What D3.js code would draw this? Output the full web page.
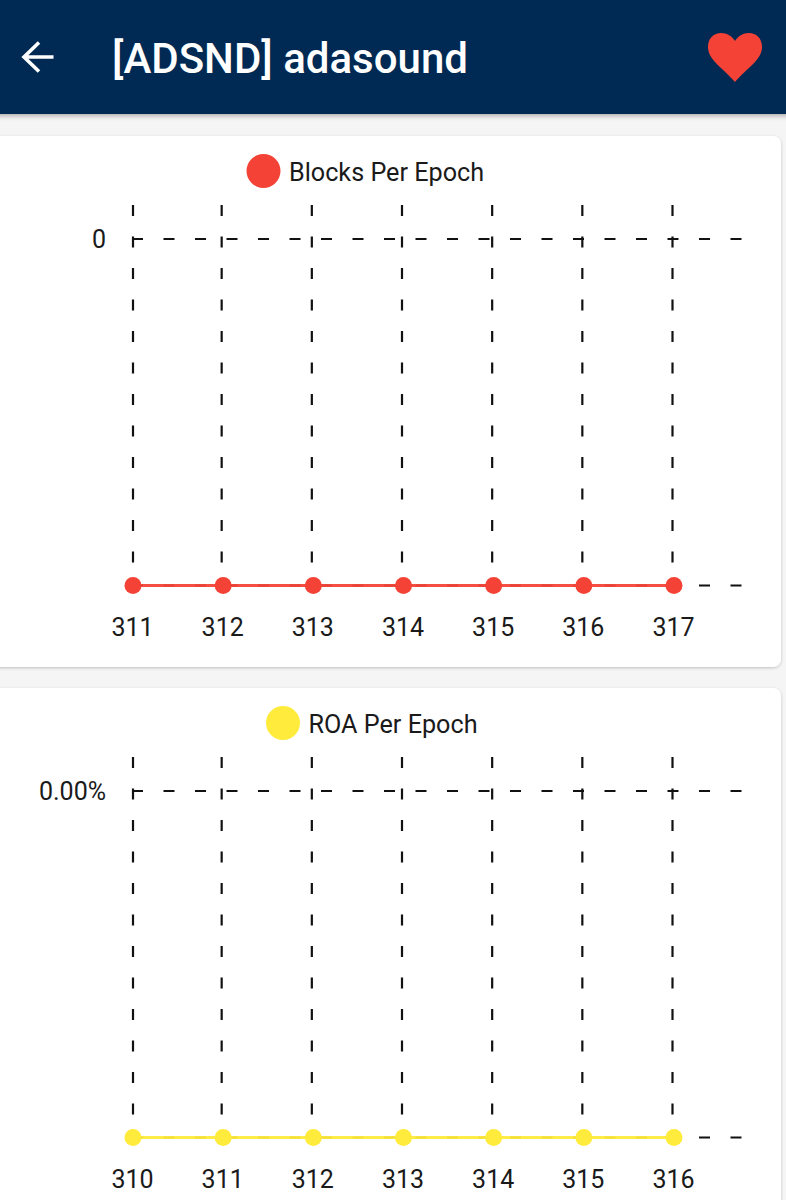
<!DOCTYPE html>
<html>
<head>
<meta charset="utf-8">
<script src="https://cdn.jsdelivr.net/npm/d3@7"></script>
<style>
  html, body { margin: 0; padding: 0; background: #f5f5f5; }
  svg { display: block; font-family: Roboto, sans-serif; }
  .grid { stroke: #111; stroke-width: 2.2; stroke-dasharray: 11 20.5; fill: none; }
  .axis text { font-size: 25px; fill: #1a1a1a; font-family: Roboto, sans-serif; }
  .legend { font-size: 25.2px; fill: #1a1a1a; }
</style>
</head>
<body>
<div id="chart"></div>
<script>
// values
let blockEpochs = [311, 312, 313, 314, 315, 316, 317]
let blockValues = [0, 0, 0, 0, 0, 0, 0]
let blockYLabels = ['0']

let roaEpochs = [310, 311, 312, 313, 314, 315, 316]
let roaValues = [0, 0, 0, 0, 0, 0, 0]
let roaYLabels = ['0.00%']

let svg = d3.select('#chart')
  .append('svg')
  .attr('width', 786)
  .attr('height', 1200)

let defs = svg.append('defs')
let headerShadow = defs.append('filter').attr('id', 'headerShadow')
  .attr('x', '-5%').attr('y', '-10%').attr('width', '110%').attr('height', '130%')
headerShadow.append('feDropShadow')
  .attr('dx', 0).attr('dy', 2).attr('stdDeviation', 2.5)
  .attr('flood-color', '#000').attr('flood-opacity', 0.3)
let cardShadow = defs.append('filter').attr('id', 'cardShadow')
  .attr('x', '-5%').attr('y', '-5%').attr('width', '110%').attr('height', '110%')
cardShadow.append('feDropShadow')
  .attr('dx', 0).attr('dy', 1).attr('stdDeviation', 1.5)
  .attr('flood-color', '#000').attr('flood-opacity', 0.22)

function drawPanel(top, cardHeight, title, color, legendX, epochs, values, yLabels) {
  // card
  svg.append('rect')
    .attr('x', -10)
    .attr('y', top + 136)
    .attr('width', 791)
    .attr('height', cardHeight)
    .attr('rx', 8)
    .attr('fill', '#fff')
    .attr('filter', 'url(#cardShadow)')

  let g = svg.append('g').attr('transform', 'translate(0,' + top + ')')

  // legend
  g.append('circle')
    .attr('cx', legendX)
    .attr('cy', 171)
    .attr('r', 17)
    .attr('fill', color)
  g.append('text')
    .attr('class', 'legend')
    .attr('x', legendX + 25.5)
    .attr('y', 172)
    .attr('dy', '.35em')
    .text(title)

  // scales
  let x = d3.scalePoint().domain(epochs).range([133, 674])
  let y = d3.scaleLinear().domain([0, 1]).range([585.5, 239])

  // grid, the verticals sit a bit left of the points except the first one
  g.selectAll('.vgrid')
    .data(epochs)
    .enter()
    .append('line')
    .attr('class', 'grid vgrid')
    .attr('x1', (d, i) => x(d) - (i ? 1.5 : 0))
    .attr('x2', (d, i) => x(d) - (i ? 1.5 : 0))
    .attr('y1', 205)
    .attr('y2', y(0))
  g.selectAll('.hgrid')
    .data(y.domain())
    .enter()
    .append('line')
    .attr('class', 'grid hgrid')
    .attr('x1', 132)
    .attr('x2', 744)
    .attr('y1', d => y(d))
    .attr('y2', d => y(d))

  // axes, labels only
  let yAxis = d3.axisLeft(y)
    .tickValues([1])
    .tickSize(0)
    .tickPadding(0)
    .tickFormat((d, i) => yLabels[i])
  g.append('g')
    .attr('class', 'axis')
    .attr('transform', 'translate(106,0)')
    .call(yAxis)
    .call(a => a.select('.domain').remove())

  let xAxis = d3.axisBottom(x).tickSize(0).tickPadding(0)
  g.append('g')
    .attr('class', 'axis')
    .attr('transform', 'translate(-1,618)')
    .call(xAxis)
    .call(a => a.select('.domain').remove())

  // series
  let line = d3.line()
    .x((d, i) => x(epochs[i]))
    .y(d => y(d))
  g.append('path')
    .attr('d', line(values))
    .attr('fill', 'none')
    .attr('stroke', color)
    .attr('stroke-width', 3)
    .attr('stroke-opacity', 0.94)
  g.selectAll('.dot')
    .data(values)
    .enter()
    .append('circle')
    .attr('class', 'dot')
    .attr('cx', (d, i) => x(epochs[i]))
    .attr('cy', d => y(d))
    .attr('r', 8.5)
    .attr('fill', color)
}

drawPanel(0, 531, 'Blocks Per Epoch', '#f44336', 263.5, blockEpochs, blockValues, blockYLabels)
drawPanel(552, 551, 'ROA Per Epoch', '#ffeb3b', 283, roaEpochs, roaValues, roaYLabels)

// header
svg.append('rect')
  .attr('x', -10)
  .attr('y', -10)
  .attr('width', 806)
  .attr('height', 124)
  .attr('fill', '#002b53')
  .attr('filter', 'url(#headerShadow)')
svg.append('path')
  .attr('d', 'M53.5 57H24M39 42.5L24 57L39 71.5')
  .attr('fill', 'none')
  .attr('stroke', '#fff')
  .attr('stroke-width', 3.6)
svg.append('text')
  .attr('x', 112)
  .attr('y', 73)
  .attr('fill', '#fff')
  .attr('font-size', 42)
  .attr('font-weight', 500)
  .text('[ADSND] adasound')
svg.append('path')
  .attr('d', 'M735 82C722 67 708 60 708 47C708 38 714 33 721 33C727 33 732 36 735 41C738 36 743 33 749 33C756 33 762 38 762 47C762 60 748 67 735 82Z')
  .attr('fill', '#f44336')
</script>
</body>
</html>
